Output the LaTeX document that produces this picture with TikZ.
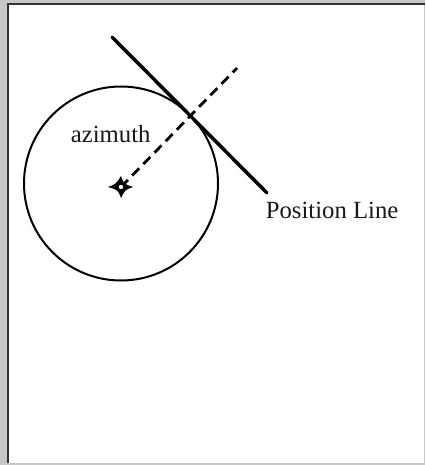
\documentclass[tikz,border=0pt]{standalone}
\usepackage{fontspec}
\setmainfont{Liberation Serif}
\begin{document}
\begin{tikzpicture}[x=1pt,y=-1pt,
  lbl/.style={inner sep=0pt,anchor=base west,font=\fontsize{24.7}{29}\selectfont,text=black!90},
  circ/.style={circle,draw=black,line width=2pt,minimum size=194pt,inner sep=0pt},
  posline/.style={line width=3.5pt,line cap=round},
  azline/.style={line width=2.8pt,dash pattern=on 10pt off 6pt}]
\useasboundingbox (0,0) rectangle (425,465);
% frame
\fill[black!22] (0,0) rectangle (425,465);
\fill[white] (8,4) rectangle (424,463);
\draw[black!80,line width=2pt] (8,463) -- (8,4) -- (425,4);
% circle and centre
\node[circ] (circle) at (121,183.5) {};
\coordinate (c) at (121,187);
\coordinate (d) at (237,68);
\coordinate (p1) at (112,37);
\coordinate (p2) at (267,193);
\draw[azline] (c) -- (d);
\draw[posline] (p1) -- (p2);
% star marker
\fill[black] (c) ++(-13,0) .. controls ++(8,-3) .. ++(13,-11)
  .. controls ++(3,8) .. ++(12,11)
  .. controls ++(-8,3) .. ++(-12,11)
  .. controls ++(-3,-8) .. cycle;
\fill[white] (c) circle (2.2pt);
% labels
\node[lbl] (az) at (70.7,142.7) {azimuth};
\node[lbl] (pl) at (265.7,218.3) {Position Line};
\end{tikzpicture}
\end{document}
